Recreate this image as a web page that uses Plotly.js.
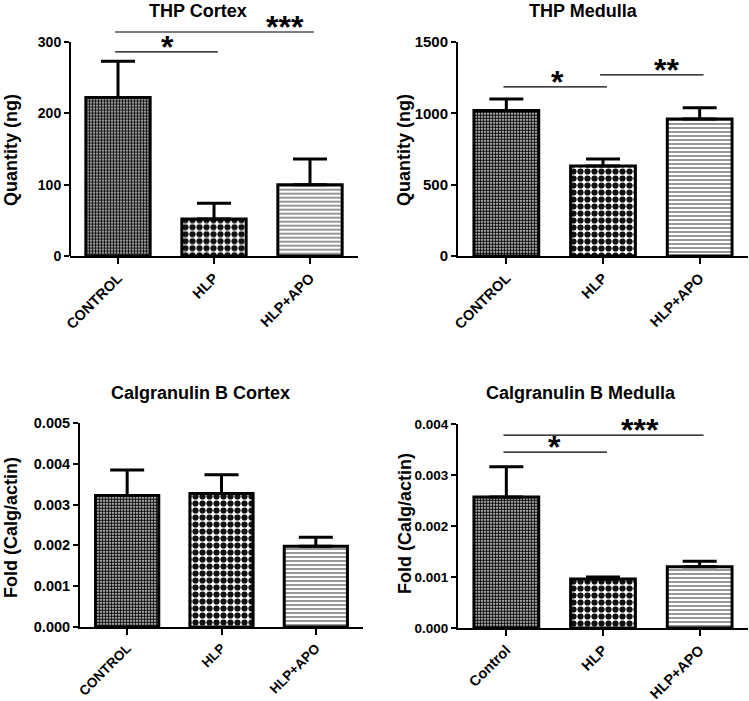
<!DOCTYPE html>
<html>
<head>
<meta charset="utf-8">
<script src="https://cdn.plot.ly/plotly-3.0.1.min.js"></script>
<style>html,body{margin:0;padding:0;background:#fff}#chart{width:749px;height:701px}</style>
</head>
<body>
<div id="chart"></div>
<script>
// ---------- data ----------
const categoriesUpper = ['CONTROL', 'HLP', 'HLP+APO'];
const categoriesCalgMedulla = ['Control', 'HLP', 'HLP+APO'];

const thpCortexMean = [222, 52, 100];
const thpCortexSem = [51, 22, 36];

const thpMedullaMean = [1020, 630, 960];
const thpMedullaSem = [80, 50, 80];

const calgCortexMean = [0.00322, 0.00327, 0.00198];
const calgCortexSem = [0.00063, 0.00046, 0.00022];

const calgMedullaMean = [0.00257, 0.00096, 0.00120];
const calgMedullaSem = [0.00059, 0.00004, 0.00011];

// significance brackets: [from category, to category, level, label]
const sigThpCortex = [[0, 1, 286, '*'], [0, 2, 314, '***']];
const sigThpMedulla = [[0, 1, 1185, '*'], [1, 2, 1269, '**']];
const sigCalgMedulla = [[0, 1, 0.00345, '*'], [0, 2, 0.00378, '***']];

const titles = ['THP Cortex', 'THP Medulla', 'Calgranulin B Cortex', 'Calgranulin B Medulla'];
const yTitles = ['Quantity (ng)', 'Quantity (ng)', 'Fold (Calg/actin)', 'Fold (Calg/actin)'];

// ---------- layout helpers ----------
const W = 749, H = 701;
const px = x => x / W;
const py = y => 1 - y / H;
const FONT = 'Liberation Sans, Arial, sans-serif';

const patShapes = ['.', '.', '-'];
const patSizes = [3, 7, 4];
const patSolid = [0.7, 0.62, 0.22];

function barTrace(cats, mean, sem, ax) {
  return {
    type: 'bar', x: cats, y: mean, xaxis: 'x' + ax, yaxis: 'y' + ax,
    width: 0.67,
    marker: {
      color: 'white',
      line: {color: 'black', width: 3},
      pattern: {shape: patShapes, size: patSizes, solidity: patSolid, fgcolor: '#111', bgcolor: '#fff', fillmode: 'replace'}
    },
    error_y: {type: 'data', symmetric: false, array: sem, arrayminus: mean.map(() => 0), color: 'black', thickness: 3, width: 17},
    showlegend: false, hoverinfo: 'skip'
  };
}

const traces = [
  barTrace(categoriesUpper, thpCortexMean, thpCortexSem, ''),
  barTrace(categoriesUpper, thpMedullaMean, thpMedullaSem, '2'),
  barTrace(categoriesUpper, calgCortexMean, calgCortexSem, '3'),
  barTrace(categoriesCalgMedulla, calgMedullaMean, calgMedullaSem, '4')
];

const tf = s => ({family: FONT, size: s, color: '#000', weight: 'bold'});
function xAxis(x0, x1, anchor, fs) {
  return {domain: [px(x0), px(x1)], anchor: anchor, range: [-0.5, 2.5], showline: true, linewidth: 2, linecolor: '#000',
    ticks: 'outside', ticklen: 6, tickwidth: 2, tickcolor: '#000', tickangle: -45, tickfont: tf(fs),
    showgrid: false, zeroline: false, fixedrange: true};
}
function yAxis(yb, yt, range, tickvals, ticktext, anchor, showline, fs) {
  return {domain: [py(yb), py(yt)], anchor: anchor, range: range, tickvals: tickvals, ticktext: ticktext,
    showline: showline, linewidth: 2, linecolor: '#000', ticks: 'outside', ticklen: 5, tickwidth: 2, tickcolor: '#000',
    tickfont: tf(fs), showgrid: false, zeroline: false, fixedrange: true};
}

const layout = {
  width: W, height: H, margin: {l: 0, r: 0, t: 0, b: 0},
  paper_bgcolor: '#fff', plot_bgcolor: '#fff', font: {family: FONT, color: '#000'},
  xaxis: xAxis(70, 358, 'y', 14.5),
  yaxis: yAxis(256, 27.7, [0, 320], [0, 100, 200, 300], ['0', '100', '200', '300'], 'x', false, 14),
  xaxis2: xAxis(458, 748, 'y2', 14.5),
  yaxis2: yAxis(256, 42, [0, 1500], [0, 500, 1000, 1500], ['0', '500', '1000', '1500'], 'x2', true, 15),
  xaxis3: xAxis(80, 363, 'y3', 13.5),
  yaxis3: yAxis(627, 423, [0, 0.005], [0, 0.001, 0.002, 0.003, 0.004, 0.005], ['0.000', '0.001', '0.002', '0.003', '0.004', '0.005'], 'x3', true, 14.5),
  xaxis4: xAxis(458, 748, 'y4', 14.5),
  yaxis4: yAxis(628, 424, [0, 0.004], [0, 0.001, 0.002, 0.003, 0.004], ['0.000', '0.001', '0.002', '0.003', '0.004'], 'x4', true, 13.5),
  shapes: [],
  annotations: []
};

// y-axis line for panel 1 (stops at 300 while the plot area extends above for brackets)
layout.shapes.push({type: 'line', xref: 'x domain', yref: 'y', x0: 0, x1: 0, y0: 0, y1: 300, line: {color: '#000', width: 2}});

// significance brackets
function addSig(list, ax, labelPos) {
  list.forEach((s, i) => {
    layout.shapes.push({type: 'line', xref: 'x' + ax, yref: 'y' + ax, x0: s[0] - 0.03, x1: s[1] + 0.04, y0: s[2], y1: s[2], line: {color: '#000', width: 1.2}});
    layout.annotations.push({xref: 'x' + ax, yref: 'y' + ax, x: labelPos[i], y: s[2], text: s[3], showarrow: false,
      yanchor: 'bottom', yshift: -15, font: tf(32)});
  });
}
addSig(sigThpCortex, '', [0.52, 1.74]);
addSig(sigThpMedulla, '2', [0.53, 1.66]);
addSig(sigCalgMedulla, '4', [0.5, 1.38]);

// titles
const titlePos = [[198, 11], [583, 11], [200, 393], [581, 393]];
titles.forEach((t, i) => layout.annotations.push({xref: 'paper', yref: 'paper', x: px(titlePos[i][0]), y: py(titlePos[i][1]),
  text: t, showarrow: false, xanchor: 'center', yanchor: 'middle', font: tf(18)}));

// y-axis titles
const yTitlePos = [[11, 150], [404, 150], [11, 528], [405, 524]];
yTitles.forEach((t, i) => layout.annotations.push({xref: 'paper', yref: 'paper', x: px(yTitlePos[i][0]), y: py(yTitlePos[i][1]),
  text: t, showarrow: false, textangle: -90, xanchor: 'center', yanchor: 'middle', font: tf(18)}));

Plotly.newPlot('chart', traces, layout, {staticPlot: true, displayModeBar: false});
</script>
</body>
</html>
